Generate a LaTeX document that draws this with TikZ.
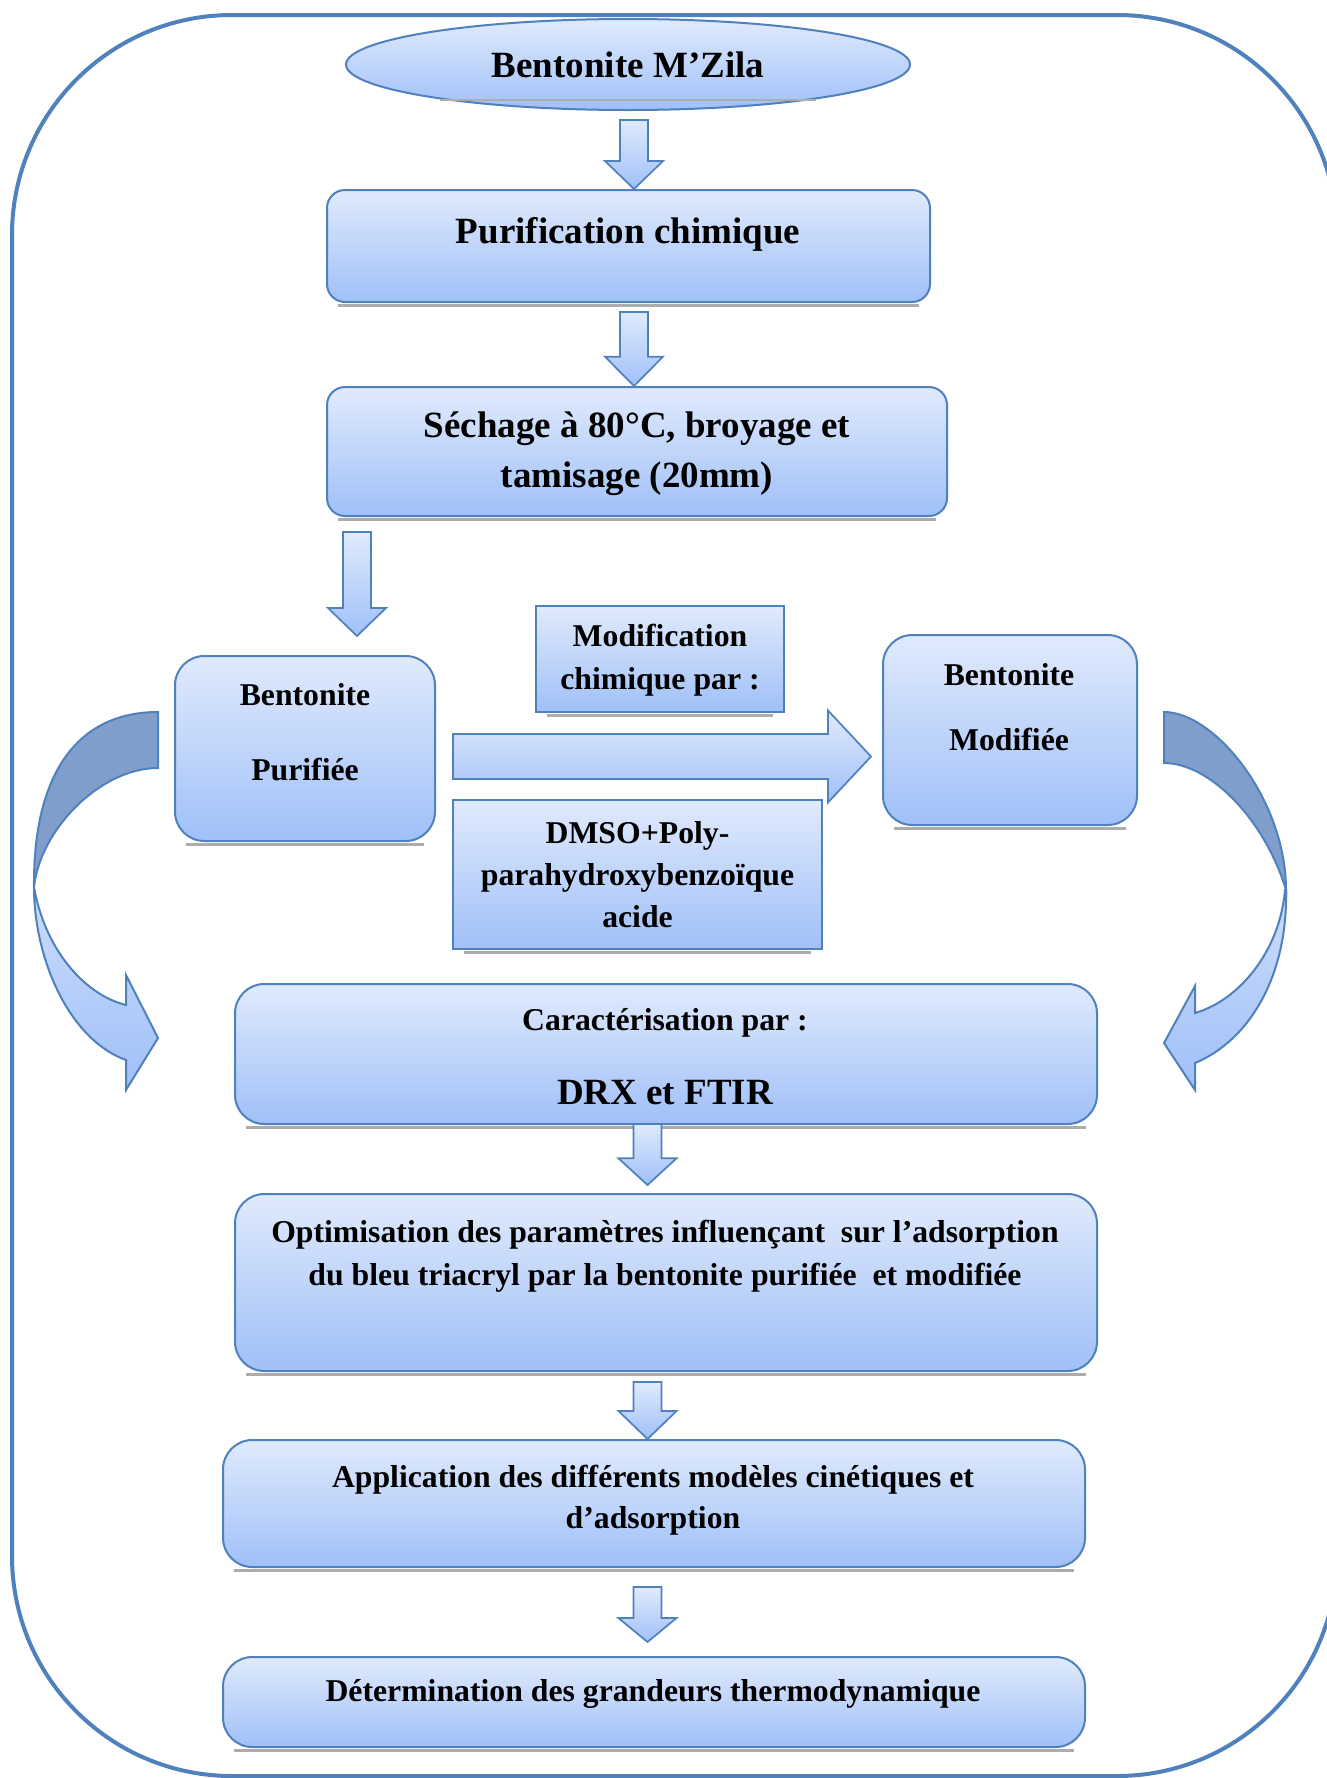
\documentclass[tikz,border=0pt]{standalone}
\usepackage{fontspec}
\setmainfont{Liberation Serif}
\usetikzlibrary{calc,shapes.geometric}
\definecolor{bord}{RGB}{79,129,189}
\definecolor{gtop}{RGB}{224,234,252}
\definecolor{gbot}{RGB}{160,192,248}
\definecolor{darkband}{RGB}{127,158,204}
\definecolor{lightband}{RGB}{204,221,250}
\newcommand{\blockdown}[3]{%
  \draw[barrow] let \p1=(#1), \p2=(#2) in
    (\x1-10.5pt,\y1) -- (\x1+10.5pt,\y1) -- (\x1+10.5pt,\y2+#3) -- (\x1+21.75pt,\y2+#3)
    -- (\x1,\y2) -- (\x1-21.75pt,\y2+#3) -- (\x1-10.5pt,\y2+#3) -- cycle;}
\newcommand{\shadowunder}[1]{%
  \draw[shadowline] ([xshift=9pt,yshift=-2pt]#1.south west) -- ([xshift=-9pt,yshift=-2pt]#1.south east);}
\begin{document}
\begin{tikzpicture}[x=0.75pt,y=-0.75pt,
  rbox/.style={draw=bord,line width=1.5pt,top color=gtop,bottom color=gbot,rounded corners=13.5pt,inner sep=0pt},
  rrbox/.style={rbox,rounded corners=22pt},
  sbox/.style={draw=bord,line width=1.5pt,top color=gtop,bottom color=gbot,inner sep=0pt},
  barrow/.style={draw=bord,line width=1.3pt,top color=gtop,bottom color=gbot,line join=miter},
  bandline/.style={draw=bord,line width=1.5pt,line join=miter},
  shadowline/.style={draw=gray!65,line width=2pt},
  bigtxt/.style={font=\bfseries\fontsize{27.75}{37.5}\selectfont,align=center,inner sep=0pt},
  smalltxt/.style={font=\bfseries\fontsize{23.8}{32}\selectfont,align=center,inner sep=0pt}]
\useasboundingbox (0,0) rectangle (1327,1778);
\fill[white] (0,0) rectangle (1327,1778);
% outer frame
\draw[bord,line width=3pt,rounded corners=165pt] (12,15) rectangle (1337,1776);

% nodes (boxes)
\node[draw=bord,line width=1.5pt,top color=gtop,bottom color=gbot,ellipse,
      minimum width=423pt,minimum height=68.25pt,inner sep=0pt,
      font=\bfseries\fontsize{27.75}{37.5}\selectfont] (E) at (628,64.5) {Bentonite M’Zila};
\node[rbox,minimum width=452.25pt,minimum height=84pt] (P) at (628.5,246) {};
\node[rbox,minimum width=465pt,minimum height=96.75pt] (S) at (637,451.5) {};
\node[rrbox,minimum width=195pt,minimum height=138.75pt] (BP) at (305,748.5) {};
\node[sbox,minimum width=186pt,minimum height=79.5pt] (MC) at (660,659) {};
\node[sbox,minimum width=276.75pt,minimum height=111.75pt] (DM) at (637.5,874.5) {};
\node[rrbox,minimum width=190.5pt,minimum height=142.5pt] (BM) at (1010,730) {};
\node[rrbox,minimum width=646.5pt,minimum height=105pt] (C) at (666,1054) {};
\node[rrbox,minimum width=646.5pt,minimum height=132.75pt] (O) at (666,1282.5) {};
\node[rrbox,minimum width=646.5pt,minimum height=95.25pt] (A) at (654,1503.5) {};
\node[rrbox,minimum width=646.5pt,minimum height=67.5pt] (D) at (654,1702) {};

\foreach \n in {E,P,S,BP,MC,DM,BM,C,O,A,D} {\shadowunder{\n}}

% texts
\node[bigtxt] (Pt) at (628,234) {Purification chimique};
\node[bigtxt] (St) at (637,454) {Séchage à 80°C, broyage et\\tamisage (20mm)};
\node[smalltxt,font=\bfseries\fontsize{23.8}{56}\selectfont] (BPt) at (305,732) {Bentonite\\Purifiée};
\node[smalltxt] (MCt) at (660,660.5) {Modification\\chimique par :};
\node[smalltxt,font=\bfseries\fontsize{23.8}{31.5}\selectfont] (DMt) at (637.5,875) {DMSO+Poly-\\parahydroxybenzoïque\\acide};
\node[smalltxt,font=\bfseries\fontsize{23.8}{48.75}\selectfont] (BMt) at (1009,707) {Bentonite\\Modifiée};
\node[smalltxt] (Ct1) at (665,1023) {Caractérisation par :};
\node[bigtxt] (Ct2) at (665,1093) {DRX et FTIR};
\node[smalltxt] (Ot) at (665,1256.5) {Optimisation des paramètres influençant\ \ sur l’adsorption\\du bleu triacryl par la bentonite purifiée\ \ et modifiée};
\node[smalltxt,font=\bfseries\fontsize{23.8}{31}\selectfont] (At) at (653,1500.5) {Application des différents modèles cinétiques et\\d’adsorption};
\node[smalltxt] (Dt) at (653,1694) {Détermination des grandeurs thermodynamique};

% down block arrows
\coordinate (a1s) at (634,120);
\coordinate (a2s) at (634,312);
\coordinate (a3s) at (357,532);
\coordinate (a3e) at (357,636);
\coordinate (a4s) at (647.5,1124);
\coordinate (a4e) at (647.5,1185);
\coordinate (a5s) at (647.5,1382);
\coordinate (a6s) at (647.5,1587);
\coordinate (a6e) at (647.5,1642);
\blockdown{a1s}{a1s |- P.north}{21pt}
\blockdown{a2s}{a2s |- S.north}{22pt}
\blockdown{a3s}{a3e}{21pt}
\blockdown{a4s}{a4e}{20pt}
\blockdown{a5s}{a5s |- A.north}{21pt}
\blockdown{a6s}{a6e}{18pt}

% big right arrow
\coordinate (ras) at (453,756.5);
\coordinate (rae) at (871,756.5);
\draw[barrow] let \p1=(ras), \p2=(rae) in
  (\x1,\y1+16.9pt) -- (\x2-32.25pt,\y1+16.9pt) -- (\x2-32.25pt,\y1+34.5pt) -- (\x2,\y2)
  -- (\x2-32.25pt,\y1-34.5pt) -- (\x2-32.25pt,\y1-16.9pt) -- (\x1,\y1-16.9pt) -- cycle;

% left curved arrow
\draw[bandline,fill=darkband] (158,712) .. controls (80,712) and (33,770) .. (34,887)
  .. controls (40,830) and (100,768) .. (158,768) -- cycle;
\draw[bandline,top color=lightband,bottom color=gbot] (34,887) .. controls (34,960) and (70,1040) .. (126,1060)
  -- (126,1090) -- (158,1038) -- (126,975) -- (126,1005) .. controls (85,995) and (45,950) .. (34,887) -- cycle;

% right curved arrow
\draw[bandline,fill=darkband] (1164,712) .. controls (1215,712) and (1286,800) .. (1286,890)
  .. controls (1265,820) and (1210,763) .. (1164,763) -- cycle;
\draw[bandline,top color=lightband,bottom color=gbot] (1286,890) .. controls (1288,975) and (1250,1040) .. (1195,1063)
  -- (1195,1090) -- (1164,1043) -- (1195,986) -- (1195,1013) .. controls (1240,1000) and (1280,950) .. (1285,890) -- cycle;
\end{tikzpicture}
\end{document}
